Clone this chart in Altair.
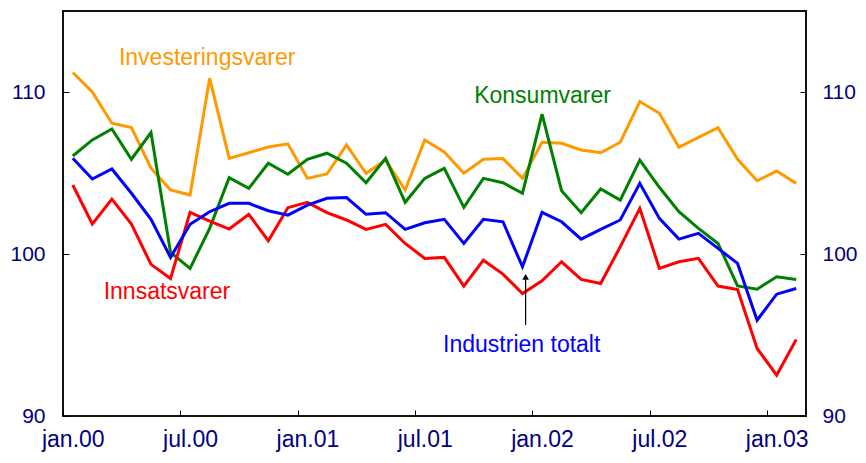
import json
import altair as alt
import pandas as pd

months = [
    "jan.00", "feb.00", "mar.00", "apr.00", "mai.00", "jun.00",
    "jul.00", "aug.00", "sep.00", "okt.00", "nov.00", "des.00",
    "jan.01", "feb.01", "mar.01", "apr.01", "mai.01", "jun.01",
    "jul.01", "aug.01", "sep.01", "okt.01", "nov.01", "des.01",
    "jan.02", "feb.02", "mar.02", "apr.02", "mai.02", "jun.02",
    "jul.02", "aug.02", "sep.02", "okt.02", "nov.02", "des.02",
    "jan.03", "feb.03",
]

investeringsvarer = [111.2, 110.0, 108.07, 107.8, 105.3, 103.95, 103.64, 110.85, 105.9, 106.25, 106.6, 106.8,
                     104.67, 104.94, 106.73, 104.98, 105.8, 103.95, 107.04, 106.3, 104.98, 105.85, 105.89, 104.67,
                     106.9, 106.83, 106.42, 106.25, 106.9, 109.41, 108.69, 106.59, 107.2, 107.8, 105.85, 104.52,
                     105.12, 104.36]
konsumvarer = [106.05, 107.04, 107.72, 105.85, 107.5, 100.1, 99.11, 101.58, 104.71, 104.05, 105.6, 104.92,
               105.85, 106.22, 105.6, 104.4, 105.9, 103.19, 104.67, 105.29, 102.88, 104.67, 104.4, 103.75,
               108.63, 103.91, 102.55, 104.01, 103.33, 105.8, 104.12, 102.61, 101.58, 100.65, 98.03, 97.83,
               98.59, 98.43]
innsatsvarer = [104.26, 101.85, 103.39, 101.85, 99.36, 98.49, 102.57, 102.03, 101.54, 102.45, 100.82, 102.86,
                103.19, 102.55, 102.1, 101.52, 101.83, 100.65, 99.73, 99.79, 98.02, 99.62, 98.76, 97.56,
                98.35, 99.52, 98.43, 98.18, 100.45, 102.82, 99.11, 99.52, 99.73, 98.02, 97.81, 94.17,
                92.52, 94.72]
industrien = [105.91, 104.63, 105.25, 103.75, 102.14, 99.79, 101.83, 102.61, 103.13, 103.13, 102.67, 102.4,
              103.02, 103.44, 103.48, 102.45, 102.55, 101.52, 101.93, 102.14, 100.65, 102.14, 101.99, 99.21,
              102.57, 101.99, 100.92, 101.52, 102.1, 104.36, 102.2, 100.92, 101.27, 100.35, 99.42, 95.91,
              97.52, 97.87]

series_names = ["Investeringsvarer", "Konsumvarer", "Innsatsvarer", "Industrien totalt"]
series_colors = ["#FF9900", "#008000", "#FF0000", "#0000FF"]

# label placement (x in month index, y in index value at text baseline)
label_x = [2.36, 20.53, 1.58, 18.94]
label_y = [111.67, 109.31, 97.21, 93.92]

# arrow pointing at Industrien totalt, des.01
arrow_x = [23.16]
arrow_from = [95.61]
arrow_to = [98.41]
arrow_tip = [98.59]

y_ticks = [90, 100, 110]

rows = []
for name, vals in zip(series_names, [investeringsvarer, konsumvarer, innsatsvarer, industrien]):
    for i, v in enumerate(vals):
        rows.append({"i": i, "month": months[i], "value": v, "series": name})
df = pd.DataFrame(rows)

lab_df = pd.DataFrame({"i": label_x, "value": label_y, "series": series_names})
arr_df = pd.DataFrame({"i": arrow_x, "y1": arrow_from, "y2": arrow_to, "yt": arrow_tip})

FONT = "Liberation Sans"
FS = 23
YFS = 21
LABEL_COLOR = "#000080"
N = len(months)
W = 743
H = 405
step = W / N

label_expr = json.dumps(months) + "[datum.value]"

x_axis = alt.Axis(
    values=list(range(0, N, 6)), labelExpr=label_expr, title=None, grid=False,
    domain=False, offset=-6, tickSize=6, tickColor="black", tickWidth=1,
    tickOffset=-step / 2, labelOffset=step / 2, labelPadding=12,
    labelFont=FONT, labelFontSize=FS, labelColor=LABEL_COLOR, labelAngle=0,
)
x_enc = alt.X("i:Q", scale=alt.Scale(domain=[-0.5, N - 0.5], nice=False, zero=False), axis=x_axis)

y_scale = alt.Scale(domain=[90, 115], nice=False, zero=False)


def y_axis(orient, pad):
    return alt.Axis(
        orient=orient, values=y_ticks, title=None, grid=False, domain=False,
        offset=-6, tickSize=6, tickColor="black", tickWidth=1, labelPadding=pad,
        labelFont=FONT, labelFontSize=YFS, labelColor=LABEL_COLOR,
    )


color_scale = alt.Scale(domain=series_names, range=series_colors)

lines = alt.Chart(df).mark_line(strokeWidth=3, strokeJoin="miter").encode(
    x=x_enc,
    y=alt.Y("value:Q", scale=y_scale, axis=y_axis("left", 18)),
    color=alt.Color("series:N", scale=color_scale, legend=None),
    detail="series:N",
    order="i:Q",
)

labels = alt.Chart(lab_df).mark_text(
    align="left", baseline="alphabetic", font=FONT, fontSize=FS
).encode(
    x=x_enc,
    y=alt.Y("value:Q", scale=y_scale, axis=y_axis("right", 16)),
    text="series:N",
    color=alt.Color("series:N", scale=color_scale, legend=None),
)

arrow_line = alt.Chart(arr_df).mark_rule(color="black", strokeWidth=1.2).encode(
    x=x_enc,
    y=alt.Y("y1:Q", scale=y_scale, axis=None),
    y2="y2:Q",
)

arrow_head = alt.Chart(arr_df).mark_point(
    shape="triangle-up", filled=True, color="black", size=45, opacity=1
).encode(
    x=x_enc,
    y=alt.Y("yt:Q", scale=y_scale, axis=None),
)

chart = alt.layer(lines, labels, arrow_line, arrow_head).resolve_scale(
    y="independent"
).properties(
    width=W, height=H,
    padding={"left": 55, "top": 3, "right": 52, "bottom": 36},
    autosize=alt.AutoSizeParams(type="none"),
    background="white",
).configure_view(stroke="#111", strokeWidth=2)

chart.save("out.html", embed_options={"renderer": "svg", "actions": False})
